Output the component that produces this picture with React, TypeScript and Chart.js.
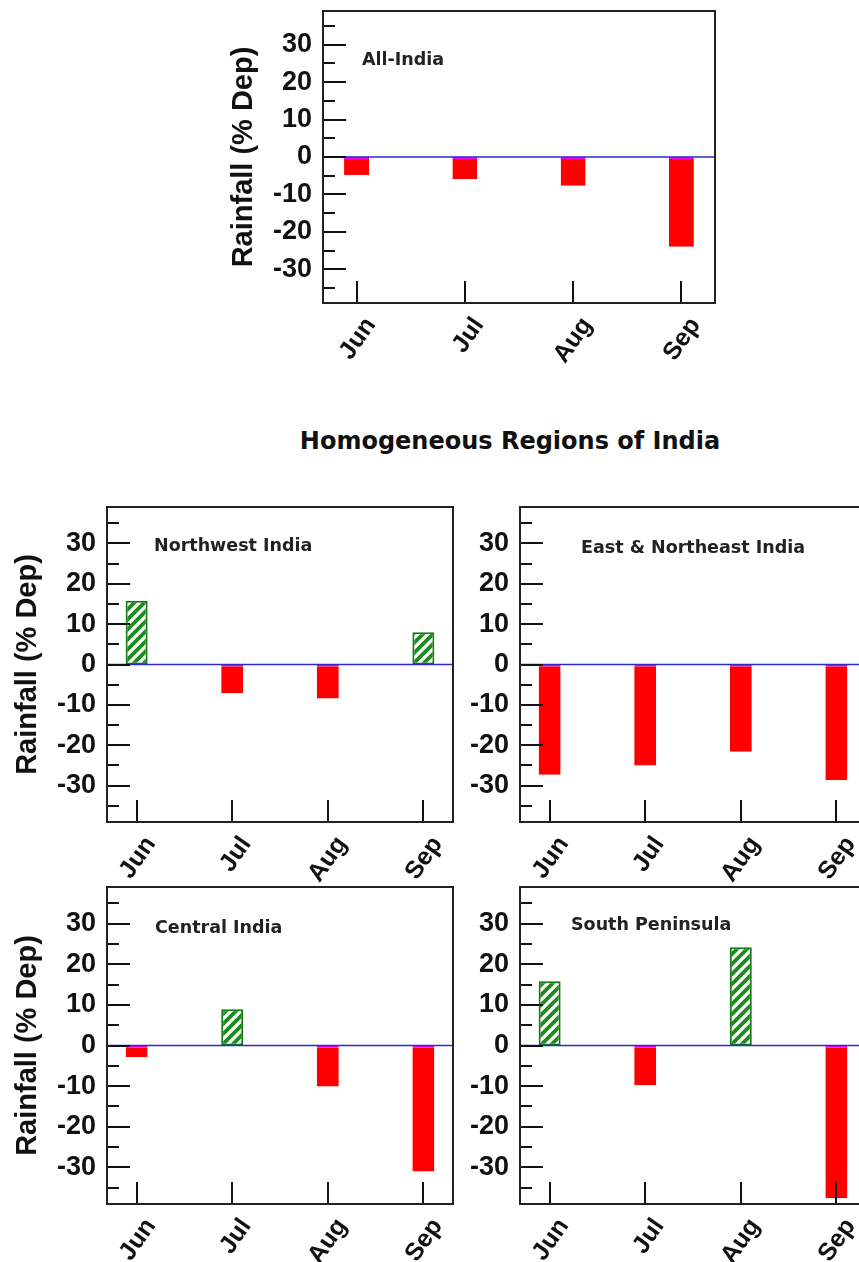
import React, { useEffect, useRef } from "react";
import { Chart, registerables } from "chart.js";

Chart.register(...registerables);

// ---------------- data ----------------
const months = ["Jun", "Jul", "Aug", "Sep"];
const allIndia = [-4.8, -5.9, -7.7, -24];
const northwestIndia = [15.8, -7.1, -8.4, 8];
const eastNortheastIndia = [-27.3, -25, -21.6, -28.6];
const centralIndia = [-2.8, 8.9, -10.1, -31];
const southPeninsula = [15.8, -9.8, 24.2, -37.6];
const yMin = -39;
const yMax = 39;
const yStep = 10;
const heading = "Homogeneous Regions of India";
const yTitle = "Rainfall (% Dep)";

// ---------------- styles ----------------
const FONT = "DejaVu Sans";
const AXIS_FONT = "Liberation Sans";
const RED = "#ff0000";
const MAGENTA = "#ff00ff";
const GREEN = "#1f8a1f";
const GREEN_EDGE = "#137a13";
const ZERO_BLUE = "#2a2acc";
const INK = "#111111";
const PAD_TOP = 6;
const PAD_RIGHT = 3;
const X_AXIS_H = 62;

type Panel = {
  name: string;
  values: number[];
  left: number;
  top: number;
  width: number;
  height: number;
  axisW: number;
  showYTitle: boolean;
  labelDx: number;
  labelDy: number;
};

const panels: Panel[] = [
  { name: "All-India", values: allIndia, left: 323, top: 11, width: 392, height: 292, axisW: 96, showYTitle: true, labelDx: 39, labelDy: 49 },
  { name: "Northwest India", values: northwestIndia, left: 107, top: 507, width: 346, height: 315, axisW: 96, showYTitle: true, labelDx: 47, labelDy: 39 },
  { name: "East & Northeast India", values: eastNortheastIndia, left: 520, top: 507, width: 346, height: 315, axisW: 60, showYTitle: false, labelDx: 61, labelDy: 41 },
  { name: "Central India", values: centralIndia, left: 107, top: 887, width: 346, height: 317, axisW: 96, showYTitle: true, labelDx: 48, labelDy: 41 },
  { name: "South Peninsula", values: southPeninsula, left: 520, top: 887, width: 346, height: 317, axisW: 60, showYTitle: false, labelDx: 51, labelDy: 38 },
];

function makeHatch(): CanvasPattern | string {
  const c = document.createElement("canvas");
  c.width = 10;
  c.height = 10;
  const g = c.getContext("2d");
  if (!g) return GREEN;
  g.fillStyle = GREEN;
  g.fillRect(0, 0, 10, 10);
  g.strokeStyle = "#ffffff";
  g.lineWidth = 3.2;
  g.beginPath();
  g.moveTo(0, 10);
  g.lineTo(10, 0);
  g.moveTo(-5, 5);
  g.lineTo(5, -5);
  g.moveTo(5, 15);
  g.lineTo(15, 5);
  g.stroke();
  const pat = g.createPattern(c, "repeat");
  return pat || GREEN;
}

function PanelChart({ p }: { p: Panel }) {
  const ref = useRef<HTMLCanvasElement | null>(null);
  const cw = p.axisW + p.width + PAD_RIGHT;
  const ch = PAD_TOP + p.height + X_AXIS_H;

  useEffect(() => {
    const canvas = ref.current;
    if (!canvas) return;
    const hatch = makeHatch();
    const valOf = (ctx: any) => {
      const r = ctx && ctx.raw;
      return r && typeof r.y === "number" ? r.y : 0;
    };

    const decor = {
      id: "decor",
      afterDatasetsDraw(chart: any) {
        const { ctx, chartArea: a } = chart;
        const xs = chart.scales.x;
        const ys = chart.scales.y;
        ctx.save();
        // zero line
        const y0 = ys.getPixelForValue(0);
        ctx.strokeStyle = ZERO_BLUE;
        ctx.lineWidth = 1.5;
        ctx.beginPath();
        ctx.moveTo(a.left, y0);
        ctx.lineTo(a.right, y0);
        ctx.stroke();
        // inward ticks
        ctx.strokeStyle = INK;
        ctx.lineWidth = 2;
        const majors: number[] = ys.ticks.map((t: any) => t.value);
        const step = majors.length > 1 ? majors[1] - majors[0] : yStep;
        const minors = [majors[0] - step / 2, ...majors.map((v) => v + step / 2)].filter(
          (v) => v > ys.min && v < ys.max
        );
        ctx.beginPath();
        majors.forEach((v) => {
          const py = Math.round(ys.getPixelForValue(v));
          ctx.moveTo(a.left, py);
          ctx.lineTo(a.left + 23, py);
        });
        minors.forEach((v) => {
          const py = Math.round(ys.getPixelForValue(v));
          ctx.moveTo(a.left, py);
          ctx.lineTo(a.left + 12, py);
        });
        xs.ticks.forEach((t: any) => {
          const px = Math.round(xs.getPixelForValue(t.value));
          ctx.moveTo(px, a.bottom);
          ctx.lineTo(px, a.bottom - 22);
        });
        ctx.stroke();
        // frame
        ctx.strokeStyle = "#222222";
        ctx.lineWidth = 2;
        ctx.strokeRect(a.left, a.top, a.right - a.left, a.bottom - a.top);
        ctx.restore();
      },
      afterDraw(chart: any) {
        const { ctx, chartArea: a } = chart;
        ctx.save();
        ctx.fillStyle = "#222222";
        ctx.font = `bold 17.5px "${FONT}"`;
        ctx.textAlign = "left";
        ctx.textBaseline = "middle";
        ctx.fillText(p.name, a.left + p.labelDx, a.top + p.labelDy);
        ctx.restore();
      },
    };

    const chart = new Chart(canvas, {
      type: "bar",
      data: {
        datasets: [
          {
            data: p.values.map((v, i) => ({ x: i, y: v })) as any,
            backgroundColor: (ctx: any) => (valOf(ctx) < 0 ? RED : hatch),
            borderColor: (ctx: any) => (valOf(ctx) < 0 ? MAGENTA : GREEN_EDGE),
            borderWidth: (ctx: any) =>
              valOf(ctx) < 0 ? { top: 2, left: 0, right: 0, bottom: 0 } : 2,
            borderSkipped: false,
            categoryPercentage: 1,
            barPercentage: 0.23,
          } as any,
        ],
      },
      options: {
        responsive: false,
        animation: false,
        events: [],
        layout: { padding: { top: PAD_TOP, right: PAD_RIGHT, left: 0, bottom: 0 } },
        plugins: { legend: { display: false }, tooltip: { enabled: false }, title: { display: false } },
        scales: {
          x: {
            type: "linear",
            min: -0.31,
            max: 3.31,
            offset: false,
            afterFit: (s: any) => {
              s.height = X_AXIS_H;
              s.paddingLeft = 0;
              s.paddingRight = 0;
              s.paddingTop = 0;
              s.paddingBottom = 0;
            },
            grid: { display: false, drawTicks: false },
            border: { display: false },
            ticks: {
              stepSize: 1,
              includeBounds: false,
              autoSkip: false,
              minRotation: 55,
              maxRotation: 55,
              padding: 9,
              labelOffset: 14,
              color: INK,
              font: { family: AXIS_FONT, size: 25, weight: "bold" },
              callback: (v: any) => months[v as number] ?? "",
            },
          },
          y: {
            type: "linear",
            min: yMin,
            max: yMax,
            afterFit: (s: any) => {
              s.width = p.axisW;
              s.paddingLeft = 0;
              s.paddingRight = 0;
              s.paddingTop = 0;
              s.paddingBottom = 0;
            },
            grid: { display: false, drawTicks: false },
            border: { display: false },
            ticks: {
              stepSize: yStep,
              includeBounds: false,
              autoSkip: false,
              padding: 11,
              color: INK,
              font: { family: AXIS_FONT, size: 27, weight: "bold" },
            },
            title: {
              display: p.showYTitle,
              text: yTitle,
              color: INK,
              padding: 0,
              font: { family: AXIS_FONT, size: 29, weight: "bold" },
            },
          },
        },
      } as any,
      plugins: [decor],
    });
    return () => chart.destroy();
  }, []);

  return (
    <canvas
      ref={ref}
      width={cw}
      height={ch}
      style={{
        position: "absolute",
        left: p.left - p.axisW,
        top: p.top - PAD_TOP,
        width: cw,
        height: ch,
      }}
    />
  );
}

export default function App() {
  return (
    <div
      style={{
        position: "absolute",
        left: 0,
        top: 0,
        width: 859,
        height: 1262,
        overflow: "hidden",
        background: "#ffffff",
      }}
    >
      {panels.map((p) => (
        <PanelChart key={p.name} p={p} />
      ))}
      <div
        style={{
          position: "absolute",
          left: 510,
          top: 429,
          transform: "translateX(-50%)",
          whiteSpace: "nowrap",
          fontFamily: FONT,
          fontWeight: "bold",
          fontSize: 24,
          lineHeight: "24px",
          color: INK,
        }}
      >
        {heading}
      </div>
    </div>
  );
}
